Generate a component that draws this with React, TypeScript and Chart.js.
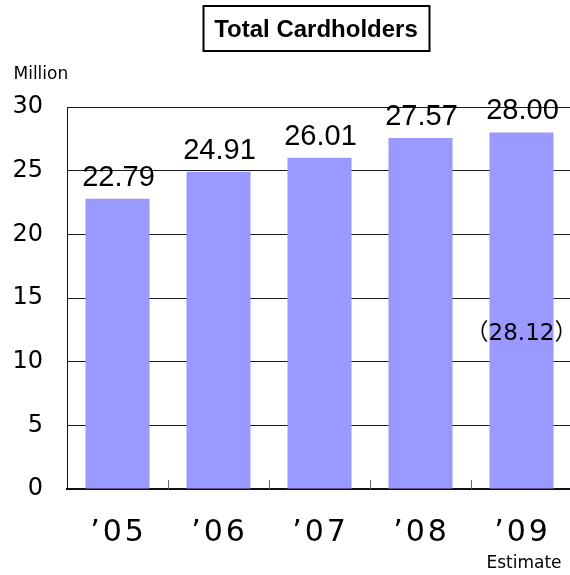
import React, { useEffect, useRef } from 'react';
import { Chart, registerables } from 'chart.js';

Chart.register(...registerables);

// ---- data ----
const categories = ['’05', '’06', '’07', '’08', '’09'];
const cardholders = [22.79, 24.91, 26.01, 27.57, 28.0];
const yMin = 0;
const yMax = 30;
const yStep = 5;
const previousEstimate = 28.12; // figure shown in parentheses on the '09 bar
const titleText = 'Total Cardholders';
const unitText = 'Million';
const estimateText = 'Estimate';

// ---- styles ----
const BAR_COLOR = '#9999FF';
const GRID_COLOR = '#1a1a1a';
const NOTE_LEVEL = 11.7; // axis value where the parenthesised note sits
const LABEL_GAP = 13;

const annotate = {
  id: 'annotate',
  afterDatasetsDraw(chart: any) {
    const { ctx, chartArea, scales } = chart;
    const xs = scales.x;
    const ys = scales.y;
    ctx.save();
    // inner tick marks at category boundaries
    ctx.strokeStyle = '#666';
    ctx.lineWidth = 1;
    for (let i = 1; i < categories.length; i++) {
      const px = Math.round((xs.getPixelForValue(i - 1) + xs.getPixelForValue(i)) / 2) + 0.5;
      ctx.beginPath();
      ctx.moveTo(px, chartArea.bottom);
      ctx.lineTo(px, chartArea.bottom - 9);
      ctx.stroke();
    }
    // value labels
    const meta = chart.getDatasetMeta(0);
    ctx.fillStyle = '#000';
    ctx.textAlign = 'center';
    ctx.textBaseline = 'alphabetic';
    ctx.font = "29px 'Liberation Sans', sans-serif";
    meta.data.forEach((bar: any, i: number) => {
      ctx.fillText(cardholders[i].toFixed(2), bar.x + 1, bar.y - LABEL_GAP);
    });
    // note on last bar
    const last = meta.data[meta.data.length - 1];
    ctx.font = "23px 'DejaVu Sans', 'Noto Sans CJK JP', sans-serif";
    ctx.fillText('（' + previousEstimate.toFixed(2) + '）', last.x, ys.getPixelForValue(NOTE_LEVEL));
    // category labels
    ctx.font = "30px 'DejaVu Sans', sans-serif";
    (ctx as any).letterSpacing = '3px';
    categories.forEach((c, i) => {
      ctx.fillText(c, xs.getPixelForValue(i) + 1, chartArea.bottom + 52);
    });
    (ctx as any).letterSpacing = '0px';
    ctx.restore();
  },
  afterDraw(chart: any) {
    const { ctx } = chart;
    ctx.save();
    // title box
    ctx.strokeStyle = '#000';
    ctx.lineWidth = 2;
    ctx.strokeRect(203.5, 6, 226, 45);
    ctx.fillStyle = '#000';
    ctx.textAlign = 'center';
    ctx.textBaseline = 'alphabetic';
    ctx.font = "bold 24px 'Liberation Sans', sans-serif";
    ctx.fillText(titleText, 316, 36.5);
    // unit
    ctx.textAlign = 'left';
    ctx.font = "17px 'DejaVu Sans', sans-serif";
    ctx.fillText(unitText, 13.5, 79);
    // estimate note
    ctx.textAlign = 'center';
    ctx.fillText(estimateText, 524, 568);
    ctx.restore();
  },
};

export default function App() {
  const ref = useRef<HTMLCanvasElement | null>(null);

  useEffect(() => {
    if (!ref.current) return;
    const chart = new Chart(ref.current, {
      type: 'bar',
      data: {
        labels: categories,
        datasets: [
          {
            data: cardholders,
            backgroundColor: BAR_COLOR,
            borderWidth: 0,
            categoryPercentage: 1,
            barPercentage: 0.634,
          },
        ],
      },
      options: {
        responsive: false,
        animation: false,
        devicePixelRatio: 1,
        layout: { padding: { top: 107, left: 0, right: 0, bottom: 0 } },
        plugins: {
          legend: { display: false },
          tooltip: { enabled: false },
          title: { display: false },
        },
        scales: {
          x: {
            offset: true,
            grid: { display: false, drawTicks: false },
            border: { display: true, color: '#111', width: 2 },
            ticks: { display: false },
            afterFit: (s: any) => {
              s.height = 86;
            },
          },
          y: {
            min: yMin,
            max: yMax,
            grid: { color: GRID_COLOR, lineWidth: 1, drawTicks: false },
            border: { display: true, color: '#111', width: 1 },
            ticks: {
              stepSize: yStep,
              color: '#000',
              font: { family: "'DejaVu Sans', sans-serif", size: 24 },
              padding: 24,
            },
            afterFit: (s: any) => {
              s.width = 67;
            },
          },
        },
      },
      plugins: [annotate],
    });
    return () => chart.destroy();
  }, []);

  return (
    <div
      style={{
        position: 'absolute',
        left: 0,
        top: 0,
        width: 570,
        height: 575,
        overflow: 'hidden',
        background: '#fff',
      }}
    >
      <canvas ref={ref} width={572} height={575} style={{ display: 'block' }} />
    </div>
  );
}
